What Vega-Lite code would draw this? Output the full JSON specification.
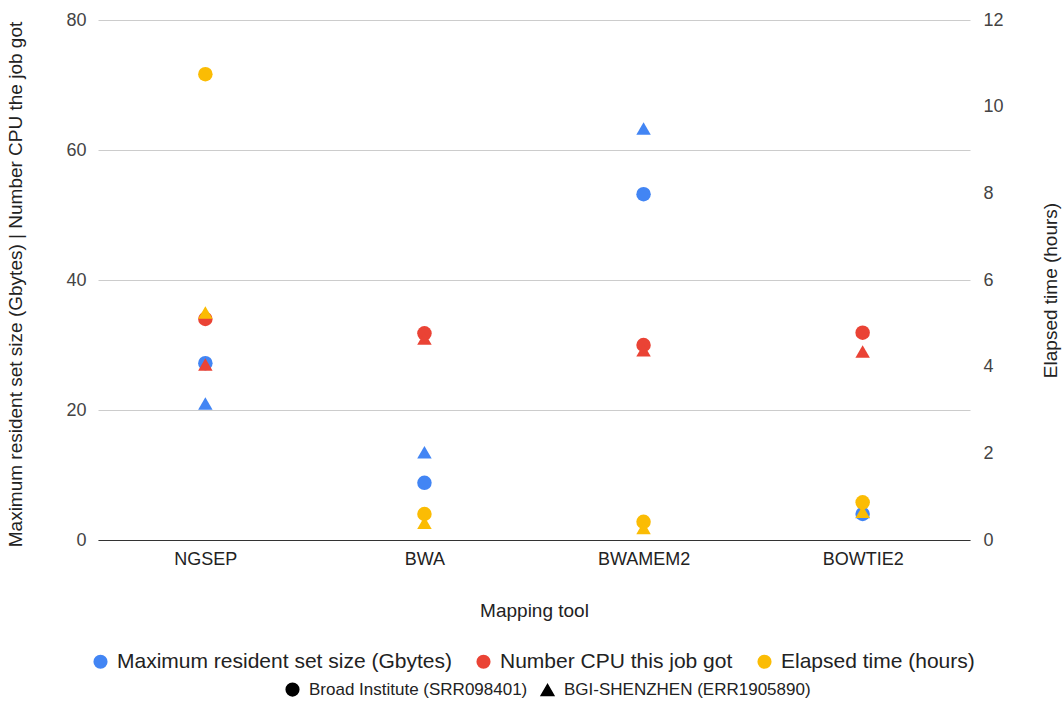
{
  "$schema": "https://vega.github.io/schema/vega-lite/v6.json",
  "autosize": "none",
  "width": 872,
  "height": 520,
  "padding": {"left": 98, "top": 20, "right": 94, "bottom": 164},
  "background": "white",
  "config": {
    "font": "Liberation Sans",
    "view": {"stroke": null},
    "axis": {"labelFont": "Liberation Sans", "titleFont": "Liberation Sans", "labelColor": "#444", "titleColor": "#222", "labelFontSize": 18, "titleFontSize": 19, "titleFontWeight": "normal"},
    "legend": {"labelFont": "Liberation Sans", "labelColor": "#222", "labelLimit": 0}
  },
  "data": {"values": [
    {"tool": "NGSEP", "metric": "Maximum resident set size (Gbytes)", "dataset": "Broad Institute (SRR098401)", "value": 27.2},
    {"tool": "NGSEP", "metric": "Number CPU this job got", "dataset": "Broad Institute (SRR098401)", "value": 34},
    {"tool": "NGSEP", "metric": "Maximum resident set size (Gbytes)", "dataset": "BGI-SHENZHEN (ERR1905890)", "value": 21.0},
    {"tool": "NGSEP", "metric": "Number CPU this job got", "dataset": "BGI-SHENZHEN (ERR1905890)", "value": 27},
    {"tool": "BWA", "metric": "Maximum resident set size (Gbytes)", "dataset": "Broad Institute (SRR098401)", "value": 8.8},
    {"tool": "BWA", "metric": "Number CPU this job got", "dataset": "Broad Institute (SRR098401)", "value": 31.8},
    {"tool": "BWA", "metric": "Maximum resident set size (Gbytes)", "dataset": "BGI-SHENZHEN (ERR1905890)", "value": 13.5},
    {"tool": "BWA", "metric": "Number CPU this job got", "dataset": "BGI-SHENZHEN (ERR1905890)", "value": 31},
    {"tool": "BWAMEM2", "metric": "Maximum resident set size (Gbytes)", "dataset": "Broad Institute (SRR098401)", "value": 53.2},
    {"tool": "BWAMEM2", "metric": "Number CPU this job got", "dataset": "Broad Institute (SRR098401)", "value": 30},
    {"tool": "BWAMEM2", "metric": "Maximum resident set size (Gbytes)", "dataset": "BGI-SHENZHEN (ERR1905890)", "value": 63.3},
    {"tool": "BWAMEM2", "metric": "Number CPU this job got", "dataset": "BGI-SHENZHEN (ERR1905890)", "value": 29.2},
    {"tool": "BOWTIE2", "metric": "Maximum resident set size (Gbytes)", "dataset": "Broad Institute (SRR098401)", "value": 4.0},
    {"tool": "BOWTIE2", "metric": "Number CPU this job got", "dataset": "Broad Institute (SRR098401)", "value": 31.9},
    {"tool": "BOWTIE2", "metric": "Maximum resident set size (Gbytes)", "dataset": "BGI-SHENZHEN (ERR1905890)", "value": 4.3},
    {"tool": "BOWTIE2", "metric": "Number CPU this job got", "dataset": "BGI-SHENZHEN (ERR1905890)", "value": 29},
    {"tool": "NGSEP", "metric": "Elapsed time (hours)", "dataset": "Broad Institute (SRR098401)", "value": 10.75},
    {"tool": "NGSEP", "metric": "Elapsed time (hours)", "dataset": "BGI-SHENZHEN (ERR1905890)", "value": 5.25},
    {"tool": "BWA", "metric": "Elapsed time (hours)", "dataset": "Broad Institute (SRR098401)", "value": 0.6},
    {"tool": "BWA", "metric": "Elapsed time (hours)", "dataset": "BGI-SHENZHEN (ERR1905890)", "value": 0.4},
    {"tool": "BWAMEM2", "metric": "Elapsed time (hours)", "dataset": "Broad Institute (SRR098401)", "value": 0.42},
    {"tool": "BWAMEM2", "metric": "Elapsed time (hours)", "dataset": "BGI-SHENZHEN (ERR1905890)", "value": 0.28},
    {"tool": "BOWTIE2", "metric": "Elapsed time (hours)", "dataset": "Broad Institute (SRR098401)", "value": 0.87},
    {"tool": "BOWTIE2", "metric": "Elapsed time (hours)", "dataset": "BGI-SHENZHEN (ERR1905890)", "value": 0.65}
  ]},
  "encoding": {
    "x": {"field": "tool", "type": "nominal", "sort": ["NGSEP", "BWA", "BWAMEM2", "BOWTIE2"],
      "scale": {"type": "point", "padding": 0.49},
      "axis": {"title": "Mapping tool", "labelAngle": 0, "ticks": false, "domain": true, "domainColor": "#333", "grid": false, "labelPadding": 10, "titleX": 436, "titleY": 70, "titleBaseline": "middle", "titleAlign": "center", "labelColor": "#222"}
    },
    "color": {"field": "metric", "type": "nominal",
      "scale": {"domain": ["Maximum resident set size (Gbytes)", "Number CPU this job got", "Elapsed time (hours)"], "range": ["#4285F4", "#EA4335", "#FBBC04"]},
      "legend": {"title": null, "orient": "none", "direction": "horizontal", "columns": 3, "legendX": -8, "legendY": 631, "symbolType": "circle", "symbolSize": 200, "columnPadding": 21, "labelOffset": 6, "labelFontSize": 21}
    },
    "shape": {"field": "dataset", "type": "nominal",
      "scale": {"domain": ["Broad Institute (SRR098401)", "BGI-SHENZHEN (ERR1905890)"], "range": ["circle", "triangle-up"]},
      "legend": {"title": null, "orient": "none", "direction": "horizontal", "columns": 2, "legendX": 186, "legendY": 661, "symbolSize": 160, "symbolFillColor": "#000", "symbolStrokeColor": "#000", "columnPadding": 10, "labelOffset": 8, "labelFontSize": 17}
    }
  },
  "layer": [
    {
      "transform": [{"filter": "datum.metric != 'Elapsed time (hours)'"}],
      "mark": {"type": "point", "filled": true, "opacity": 1, "size": 210},
      "encoding": {
        "y": {"field": "value", "type": "quantitative", "scale": {"domain": [0, 80], "nice": false},
          "axis": {"orient": "left", "values": [0, 20, 40, 60, 80], "title": "Maximum resident set size (Gbytes) | Number CPU the job got", "ticks": false, "domain": false, "grid": true, "gridColor": "#cccccc", "labelPadding": 12, "titleAngle": -90, "titleX": -83, "titleY": 264, "titleAlign": "center", "titleBaseline": "middle"}
        }
      }
    },
    {
      "transform": [{"filter": "datum.metric == 'Elapsed time (hours)'"}],
      "mark": {"type": "point", "filled": true, "opacity": 1, "size": 210},
      "encoding": {
        "y": {"field": "value", "type": "quantitative", "scale": {"domain": [0, 12], "nice": false},
          "axis": {"orient": "right", "values": [0, 2, 4, 6, 8, 10, 12], "title": "Elapsed time (hours)", "ticks": false, "domain": false, "grid": false, "labelPadding": 13, "titleAngle": -90, "titleX": 80, "titleY": 270, "titleAlign": "center", "titleBaseline": "middle"}
        }
      }
    }
  ],
  "resolve": {"scale": {"y": "independent"}}
}
